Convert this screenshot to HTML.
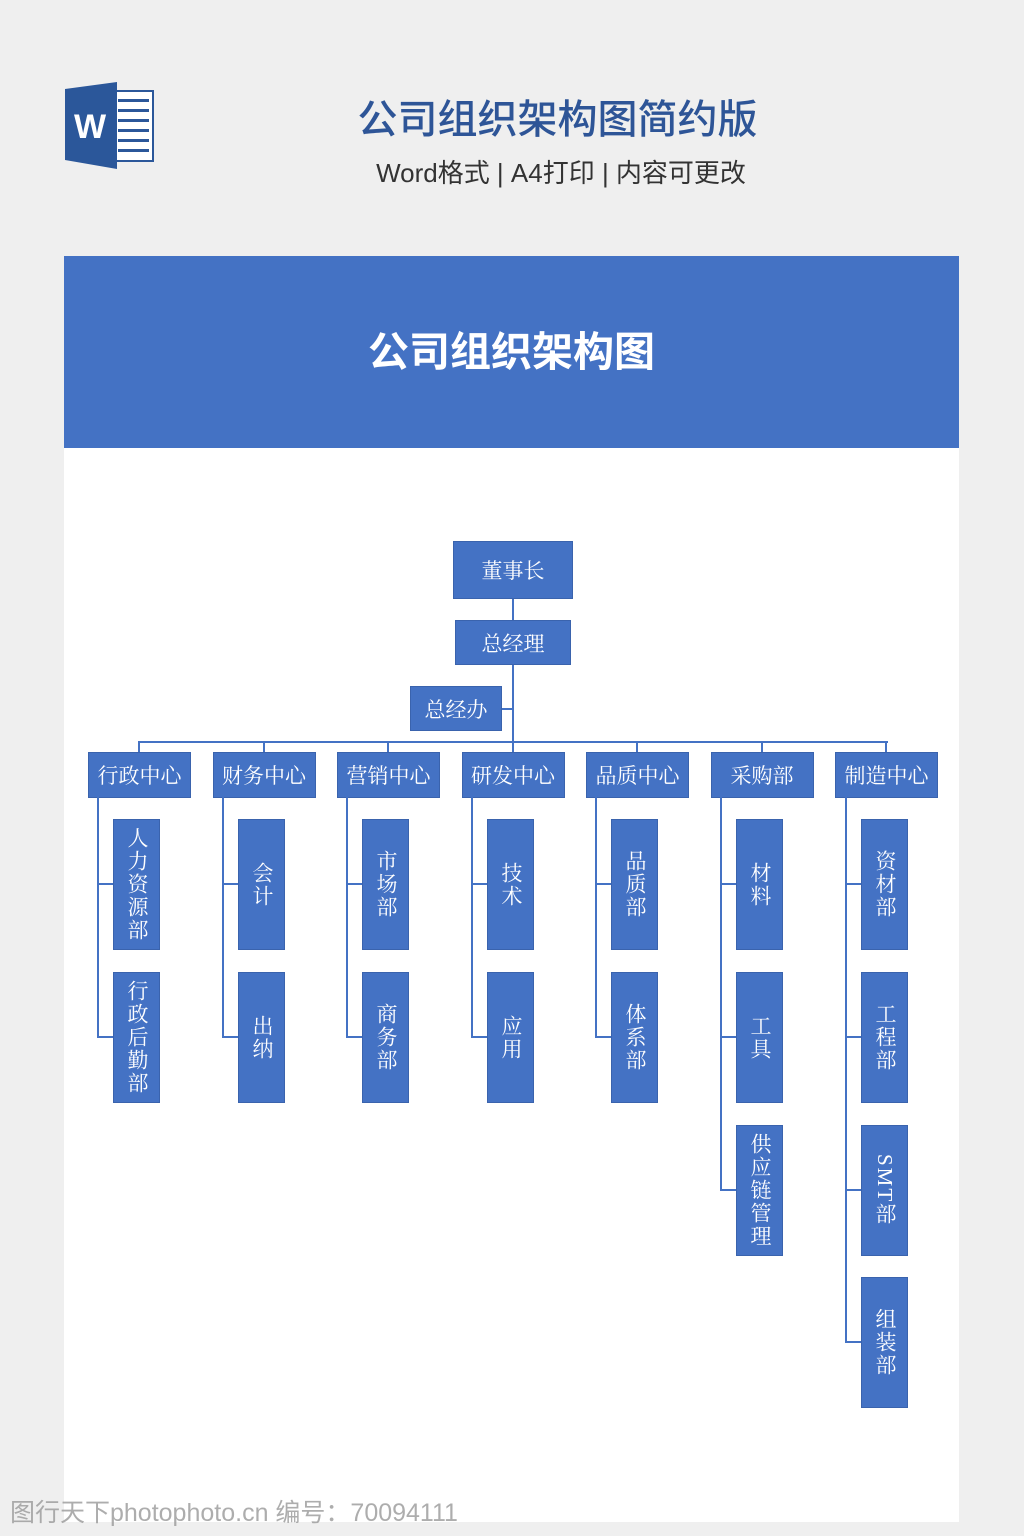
<!DOCTYPE html>
<html><head><meta charset="utf-8"><style>
*{margin:0;padding:0;box-sizing:border-box}
body{width:1024px;height:1536px;background:#efefef;position:relative;overflow:hidden;font-family:"Liberation Sans","Noto Sans CJK SC",sans-serif}
.a{position:absolute}
.b{position:absolute;background:#4472c4;color:#fff;font-family:"Liberation Serif","Noto Serif CJK SC",serif;font-size:21px;display:flex;align-items:center;justify-content:center;border:1px solid #3a63ad}
.v{writing-mode:vertical-rl;letter-spacing:2px;line-height:1;font-size:21px}
.l{position:absolute;background:#4472c4}
</style></head><body>
<svg class="a" style="left:64px;top:80px" width="92" height="92" viewBox="0 0 92 92">
<rect x="52" y="11" width="37" height="70" fill="#fff" stroke="#2b579a" stroke-width="2"/>
<g fill="#2b579a"><rect x="54" y="19" width="31" height="3"/><rect x="54" y="29" width="31" height="3"/><rect x="54" y="39" width="31" height="3"/><rect x="54" y="49" width="31" height="3"/><rect x="54" y="59" width="31" height="3"/><rect x="54" y="69" width="31" height="3"/></g>
<polygon points="1,9 53,2 53,89 1,80" fill="#2b579a"/>
<text x="26" y="58" font-family="Liberation Sans" font-weight="bold" font-size="34" fill="#fff" text-anchor="middle">W</text>
</svg>
<div class="a" style="left:300px;width:515px;top:87px;text-align:center;font-size:40px;font-weight:500;color:#2e5597">公司组织架构图简约版</div>
<div class="a" style="left:290px;width:542px;top:153px;text-align:center;font-size:26px;color:#333">Word格式 | A4打印 | 内容可更改</div>
<div class="a" style="left:64px;top:256px;width:895px;height:1266px;background:#fff"></div>
<div class="a" style="left:64px;top:256px;width:895px;height:192px;background:#4472c4;color:#fff;font-size:41px;font-weight:bold;text-align:center;line-height:192px">公司组织架构图</div>

<div class="l" style="left:512px;top:598px;width:2px;height:143px"></div>
<div class="l" style="left:501px;top:708px;width:12px;height:2px"></div>
<div class="l" style="left:138px;top:741px;width:750px;height:2px"></div>
<div class="b" style="left:453px;top:541px;width:120px;height:58px">董事长</div>
<div class="b" style="left:455px;top:620px;width:116px;height:45px">总经理</div>
<div class="b" style="left:410px;top:686px;width:92px;height:45px">总经办</div>

<div id="c"></div>
<script>
var names=["行政中心","财务中心","营销中心","研发中心","品质中心","采购部","制造中心"];
var kids=[["人力资源部","行政后勤部"],["会计","出纳"],["市场部","商务部"],["技术","应用"],["品质部","体系部"],["材料","工具","供应链管理"],["资材部","工程部","SMT部","组装部"]];
var tops=[819,972,1125,1277];
var h="";
for(var i=0;i<7;i++){
 var cx=139+i*124.5;
 h+='<div class="l" style="left:'+(cx-1)+'px;top:741px;width:2px;height:12px"></div>';
 h+='<div class="b" style="left:'+(cx-51)+'px;top:752px;width:103px;height:46px">'+names[i]+'</div>';
 var lx=Math.round(97+i*124.6);
 var n=kids[i].length;
 h+='<div class="l" style="left:'+lx+'px;top:797px;width:2px;height:'+(tops[n-1]+65-797+1)+'px"></div>';
 for(var j=0;j<n;j++){
  h+='<div class="l" style="left:'+lx+'px;top:'+(tops[j]+64)+'px;width:17px;height:2px"></div>';
  h+='<div class="b" style="left:'+(lx+16)+'px;top:'+tops[j]+'px;width:47px;height:131px"><span class="v">'+kids[i][j]+'</span></div>';
 }
}
document.getElementById("c").outerHTML=h;
</script>
<div class="a" style="left:10px;top:1493px;font-size:25px;color:#999;opacity:.8">图行天下photophoto.cn 编号：70094111</div>
</body></html>
